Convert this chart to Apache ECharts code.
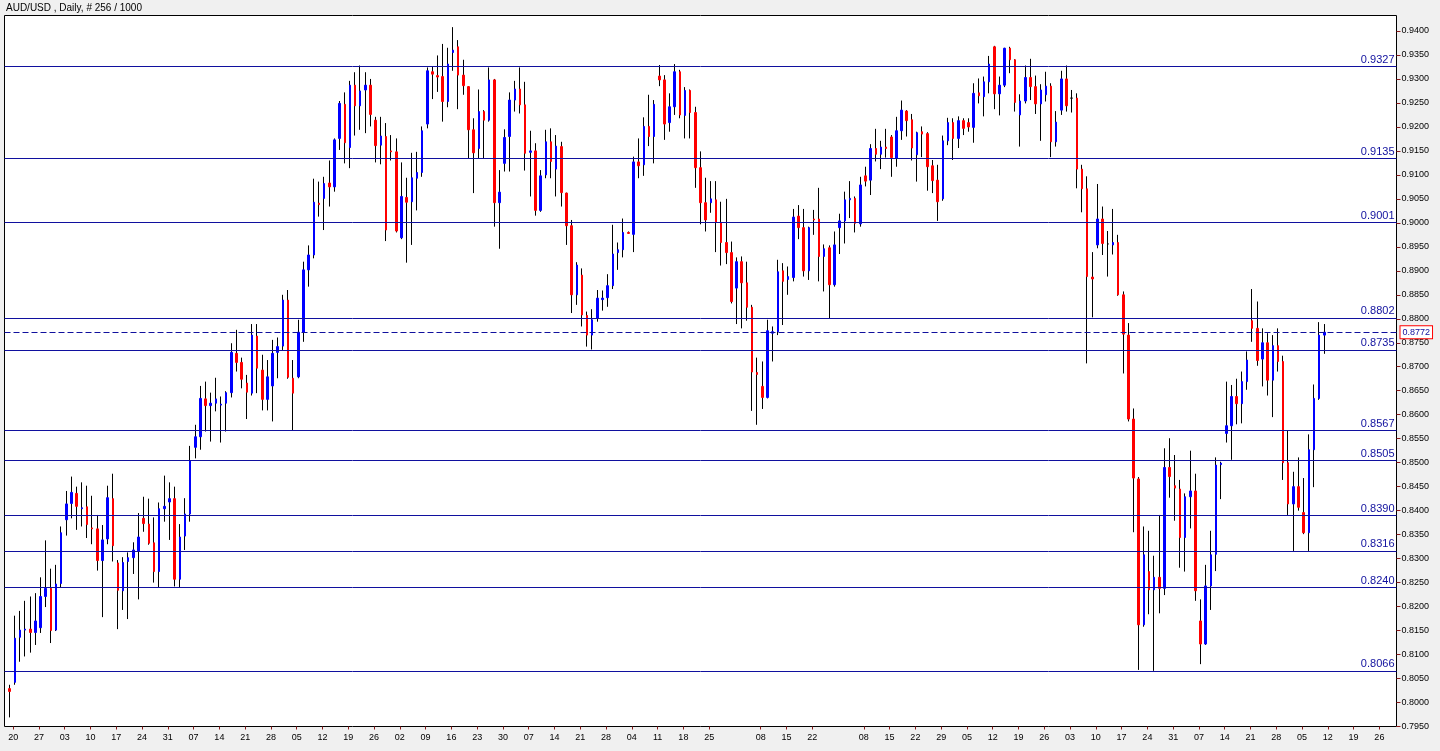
<!DOCTYPE html>
<html><head><meta charset="utf-8">
<script src="https://cdn.jsdelivr.net/npm/echarts@6/dist/echarts.min.js"></script>
<style>html,body{margin:0;padding:0;background:#f0f0f0;}#c{width:1440px;height:751px;}</style>
</head><body><div id="c"></div>
<script>
const chartTitle = 'AUD/USD , Daily, # 256 / 1000';
const weekLabels = ['20','27','03','10','17','24','31','07','14','21','28','05','12','19','26','02','09','16','23','30','07','14','21','28','04','11','18','25','','08','15','22','','08','15','22','29','05','12','19','26','03','10','17','24','31','07','14','21','28','05','12','19','26'];
const levels = [0.9327, 0.9135, 0.9001, 0.8802, 0.8735, 0.8567, 0.8505, 0.8390, 0.8316, 0.8240, 0.8066];
const lastPrice = 0.8772;
const futureBars = 14;

const opens = [
.8029,.8042,.8136,.8151,.8153,.8146,.8156,.8221,.8238,.8151,
.8248,.8381,.8415,.8436,.8404,.8408,.8364,.8362,.8296,.8341,
.8425,.8291,.8233,.8294,.8302,.8316,.8384,.8372,.8333,.8273,
.8404,.8418,.8425,.8257,.8347,.8393,.8532,.8554,.8633,.8619,
.8624,.8620,.8624,.8646,.8728,.8709,.8666,.8645,.8764,.8693,
.8632,.8660,.8730,.8743,.8839,.8676,.8679,.8772,.8902,.8933,
.9041,.9051,.9083,.9075,.9176,.9247,.9157,.9287,.9244,.9277,
.9287,.9214,.9162,.9180,.9150,.9148,.8969,.9053,.9044,.9093,
.9105,.9206,.9315,.9307,.9305,.9253,.9355,.9367,.9308,.9284,
.9194,.9155,.9232,.9214,.9298,.9042,.9124,.9180,.9256,.9279,
.9246,.9147,.9150,.9026,.9100,.9169,.9112,.9159,.9062,.8994,
.8850,.8891,.8807,.8766,.8801,.8840,.8844,.8869,.8938,.8944,
.8980,.8976,.9127,.9121,.9201,.9180,.9306,.9298,.9209,.9242,
.9315,.9224,.9276,.9230,.9115,.9042,.9042,.9048,.9001,.8959,
.8938,.8864,.8919,.8875,.8824,.8688,.8659,.8636,.8770,.8773,
.8900,.8882,.8886,.9014,.8990,.8900,.9008,.9008,.8930,.8948,
.8871,.8990,.9004,.9048,.9051,.8998,.9098,.9089,.9155,.9143,
.9158,.9179,.9135,.9192,.9233,.9215,.9142,.9190,.9186,.9119,
.9089,.9050,.9171,.9209,.9176,.9213,.9209,.9199,.9271,.9263,
.9294,.9367,.9269,.9287,.9364,.9340,.9225,.9254,.9303,.9284,
.9248,.9267,.9285,.9169,.9235,.9300,.9260,.9260,.9112,.9071,
.8887,.8954,.9008,.8956,.8954,.8959,.8850,.8766,.8591,.8466,
.8162,.8273,.8235,.8261,.8238,.8490,.8452,.8445,.8344,.8429,
.8441,.8170,.8122,.8243,.8309,.8496,.8561,.8577,.8638,.8623,
.8669,.8796,.8780,.8716,.8750,.8672,.8744,.8711,.8500,.8414,
.8450,.8396,.8354,.8527,.8634,.8766];

const highs = [
.8037,.8181,.8191,.8212,.8221,.8228,.8261,.8338,.8279,.8287,
.8367,.8441,.8471,.8450,.8459,.8452,.8431,.8391,.8370,.8452,
.8477,.8297,.8303,.8313,.8334,.8395,.8429,.8425,.8386,.8417,
.8473,.8459,.8450,.8372,.8426,.8535,.8579,.8660,.8669,.8646,
.8677,.8638,.8649,.8749,.8777,.8719,.8683,.8789,.8789,.8725,
.8714,.8756,.8761,.8850,.8860,.8714,.8798,.8919,.8953,.9092,
.9086,.9096,.9130,.9176,.9254,.9272,.9296,.9314,.9328,.9314,
.9300,.9221,.9221,.9208,.9183,.9176,.9126,.9094,.9146,.9148,
.9201,.9324,.9326,.9349,.9373,.9365,.9408,.9381,.9340,.9285,
.9218,.9278,.9235,.9324,.9300,.9110,.9195,.9272,.9296,.9324,
.9294,.9192,.9166,.9110,.9194,.9197,.9183,.9169,.9063,.9006,
.8918,.8905,.8815,.8820,.8860,.8859,.8893,.8996,.8959,.9009,
.8982,.9138,.9176,.9220,.9267,.9256,.9329,.9308,.9270,.9331,
.9319,.9283,.9278,.9242,.9149,.9094,.9087,.9087,.9044,.9050,
.8961,.8928,.8930,.8919,.8829,.8719,.8711,.8798,.8784,.8923,
.8916,.8909,.9029,.9037,.9029,.8992,.9027,.9073,.8955,.8953,
.8982,.9019,.9065,.9087,.9055,.9096,.9117,.9164,.9196,.9171,
.9196,.9183,.9221,.9255,.9235,.9227,.9190,.9201,.9189,.9131,
.9121,.9182,.9219,.9218,.9222,.9218,.9218,.9291,.9301,.9305,
.9348,.9369,.9305,.9365,.9367,.9341,.9268,.9328,.9342,.9307,
.9289,.9315,.9291,.9233,.9317,.9328,.9277,.9270,.9121,.9097,
.8939,.9081,.9034,.8983,.9029,.8975,.8857,.8791,.8613,.8470,
.8367,.8358,.8306,.8391,.8530,.8551,.8516,.8464,.8436,.8525,
.8477,.8215,.8287,.8358,.8511,.8502,.8669,.8662,.8675,.8690,
.8732,.8862,.8836,.8780,.8770,.8766,.8780,.8723,.8568,.8481,
.8511,.8468,.8559,.8663,.8793,.8789];

const lows = [
.7969,.8037,.8085,.8096,.8104,.8120,.8145,.8199,.8124,.8149,
.8240,.8348,.8384,.8360,.8367,.8343,.8330,.8275,.8178,.8330,
.8294,.8153,.8193,.8174,.8268,.8215,.8356,.8329,.8250,.8240,
.8377,.8339,.8242,.8240,.8318,.8377,.8509,.8527,.8565,.8544,
.8607,.8542,.8565,.8636,.8690,.8655,.8591,.8640,.8645,.8609,
.8609,.8586,.8676,.8735,.8675,.8568,.8676,.8752,.8867,.8926,
.9013,.8985,.9034,.9065,.9152,.9124,.9114,.9182,.9194,.9187,
.9201,.9126,.9122,.8962,.9130,.8980,.8966,.8917,.8954,.9026,
.9096,.9197,.9258,.9273,.9211,.9241,.9317,.9237,.9267,.9135,
.9062,.9135,.9135,.9211,.8992,.8946,.9107,.9107,.9232,.9228,
.9109,.9055,.9015,.9023,.9093,.9093,.9055,.9034,.8954,.8812,
.8829,.8784,.8742,.8736,.8794,.8817,.8825,.8862,.8902,.8928,
.8977,.8939,.9093,.9098,.9160,.9124,.9285,.9173,.9190,.9225,
.9218,.9176,.9176,.9073,.8997,.8982,.9021,.8939,.8911,.8914,
.8832,.8789,.8780,.8796,.8608,.8579,.8612,.8634,.8711,.8766,
.8787,.8850,.8878,.8966,.8888,.8881,.8975,.8878,.8857,.8801,
.8867,.8935,.8957,.9010,.8980,.8992,.9076,.9058,.9128,.9112,
.9136,.9096,.9117,.9173,.9180,.9130,.9086,.9137,.9067,.9062,
.9004,.9046,.9162,.9131,.9156,.9183,.9190,.9167,.9249,.9222,
.9270,.9237,.9224,.9283,.9312,.9232,.9159,.9249,.9256,.9227,
.9171,.9253,.9137,.9159,.9225,.9232,.9230,.9072,.9022,.8707,
.8803,.8947,.8933,.8888,.8934,.8848,.8686,.8586,.8355,.8068,
.8158,.8184,.8066,.8186,.8224,.8427,.8379,.8281,.8273,.8363,
.8212,.8080,.8120,.8193,.8274,.8424,.8542,.8506,.8580,.8582,
.8652,.8752,.8702,.8659,.8640,.8595,.8690,.8464,.8391,.8316,
.8400,.8351,.8316,.8449,.8631,.8727];

const closes = [
.8023,.8134,.8151,.8153,.8146,.8170,.8221,.8238,.8150,.8247,
.8354,.8414,.8438,.8409,.8406,.8371,.8362,.8296,.8339,.8427,
.8327,.8234,.8292,.8302,.8318,.8345,.8373,.8332,.8273,.8404,
.8409,.8425,.8257,.8345,.8393,.8504,.8554,.8634,.8619,.8624,
.8633,.8622,.8646,.8730,.8709,.8674,.8647,.8766,.8697,.8632,
.8679,.8728,.8742,.8839,.8678,.8645,.8772,.8902,.8933,.9043,
.9038,.9082,.9075,.9173,.9249,.9167,.9287,.9244,.9275,.9287,
.9226,.9161,.9181,.8985,.9148,.8983,.9055,.9043,.9094,.9105,
.9192,.9317,.9310,.9304,.9253,.9331,.9360,.9308,.9286,.9194,
.9146,.9232,.9214,.9298,.9042,.9064,.9178,.9256,.9279,.9246,
.9145,.9150,.9026,.9098,.9169,.9128,.9160,.9063,.8994,.8850,
.8912,.8808,.8766,.8798,.8843,.8843,.8869,.8935,.8944,.8980,
.8978,.9127,.9119,.9201,.9180,.9247,.9298,.9206,.9242,.9315,
.9225,.9276,.9230,.9115,.9042,.9006,.9050,.9001,.8959,.8938,
.8836,.8919,.8875,.8824,.8689,.8684,.8636,.8775,.8773,.8898,
.8878,.8888,.9012,.8990,.8900,.8990,.9006,.8930,.8946,.8871,
.8954,.9004,.9048,.9051,.8999,.9079,.9087,.9155,.9143,.9158,
.9155,.9136,.9192,.9235,.9213,.9156,.9188,.9185,.9117,.9088,
.9044,.9171,.9209,.9176,.9213,.9197,.9200,.9270,.9265,.9294,
.9331,.9269,.9287,.9364,.9340,.9251,.9254,.9303,.9284,.9248,
.9277,.9285,.9169,.9210,.9300,.9244,.9260,.9112,.9071,.8888,
.8883,.9008,.8957,.8956,.8959,.8850,.8768,.8591,.8468,.8162,
.8308,.8235,.8261,.8238,.8490,.8471,.8447,.8344,.8429,.8441,
.8233,.8122,.8243,.8308,.8495,.8499,.8577,.8638,.8623,.8669,
.8714,.8780,.8713,.8750,.8672,.8744,.8711,.8500,.8414,.8450,
.8407,.8354,.8527,.8634,.8766,.8772];

// categories: one leading slot, the daily bars, then empty future slots (weekdays)
const categories = [];
(function () {
  const d = new Date(Date.UTC(2009, 6, 17));
  const total = 1 + opens.length + futureBars;
  while (categories.length < total) {
    const wd = d.getUTCDay();
    if (wd !== 0 && wd !== 6) categories.push(d.toISOString().slice(0, 10));
    d.setUTCDate(d.getUTCDate() + 1);
  }
})();

const wickData = opens.map((o, i) => [i + 1, o, closes[i], lows[i], highs[i]]);
const bodyData = opens.map((o, i) => [i + 1, o, closes[i], Math.min(o, closes[i]), Math.max(o, closes[i])]);

const isTick = (idx) => idx >= 1 && (idx - 1) % 5 === 0 && !!weekLabels[(idx - 1) / 5];
const NAVY = '#10109e';
const AXC = '#8b1a1a';
const FONT = '"Liberation Sans", Arial, sans-serif';

const chart = echarts.init(document.getElementById('c'), null, { renderer: 'canvas' });
chart.setOption({
  backgroundColor: '#f0f0f0',
  animation: false,
  textStyle: { fontFamily: FONT },
  grid: [
    { left: 4.5, top: 30.98, width: 1392, height: 695.52, show: false },
    { left: 8, top: 15.5, width: 1392, height: 711, show: false }
  ],
  xAxis: [
    { type: 'category', gridIndex: 0, data: categories, boundaryGap: false,
      axisLine: { show: false }, axisTick: { show: false }, axisLabel: { show: false }, splitLine: { show: false } },
    { type: 'category', gridIndex: 1, data: categories, boundaryGap: false,
      axisLine: { show: false },
      axisTick: { show: true, length: 3, interval: isTick, lineStyle: { color: AXC, width: 1 } },
      axisLabel: { interval: isTick, formatter: (v, idx) => (isTick(idx) ? weekLabels[(idx - 1) / 5] : ''),
        fontSize: 9, color: '#000', margin: 7, fontFamily: FONT },
      splitLine: { show: false } }
  ],
  yAxis: [
    { type: 'value', gridIndex: 0, position: 'right', min: 0.795, max: 0.94, interval: 0.005,
      axisLine: { show: false },
      axisTick: { show: true, length: 4, lineStyle: { color: AXC } },
      axisLabel: { formatter: (v) => v.toFixed(4), fontSize: 9, color: '#000', margin: 5, fontFamily: FONT },
      splitLine: { show: false } },
    { type: 'value', gridIndex: 1, min: 0, max: 1, show: false }
  ],
  graphic: [
    { type: 'rect', z: -10, silent: true, shape: { x: 4.5, y: 15.5, width: 1392, height: 711 },
      style: { fill: '#ffffff', stroke: '#000000', lineWidth: 1 } },
    { type: 'text', left: 6, top: 3, silent: true,
      style: { text: chartTitle, font: '10px ' + FONT, fill: '#000' } }
  ],
  series: [
    { type: 'candlestick', name: 'wick', xAxisIndex: 0, yAxisIndex: 0, data: wickData,
      encode: { x: 0, y: [1, 2, 3, 4] }, barWidth: 1, clip: false, silent: true, z: 2,
      emphasis: { disabled: true },
      itemStyle: { color: '#000', color0: '#000', borderColor: '#000', borderColor0: '#000', borderColorDoji: '#000', borderWidth: 1 } },
    { type: 'candlestick', name: 'AUD/USD', xAxisIndex: 0, yAxisIndex: 0, data: bodyData,
      encode: { x: 0, y: [1, 2, 3, 4] }, barWidth: 2, clip: false, silent: true, z: 3,
      emphasis: { disabled: true },
      itemStyle: { color: '#0000ff', color0: '#ff0000', borderColor: '#0000ff', borderColor0: '#ff0000', borderColorDoji: '#000', borderWidth: 1 },
      markLine: {
        silent: true, symbol: ['none', 'none'], animation: false, precision: 4,
        data: levels.map((v) => ({
          yAxis: v,
          lineStyle: { color: NAVY, width: 1, type: 'solid' },
          label: { show: true, position: 'insideEndTop', formatter: v.toFixed(4), color: NAVY, fontSize: 11, fontFamily: FONT, distance: [2, 1] }
        })).concat([{
          yAxis: lastPrice,
          lineStyle: { color: NAVY, width: 1, type: [6, 3] },
          label: { show: true, position: 'end', formatter: lastPrice.toFixed(4), color: NAVY, fontSize: 9, fontFamily: FONT,
            backgroundColor: '#fff', borderColor: '#ff0000', borderWidth: 1, padding: [2, 2, 1, 2], distance: 4 }
        }])
      } }
  ]
});
</script>
</body></html>
